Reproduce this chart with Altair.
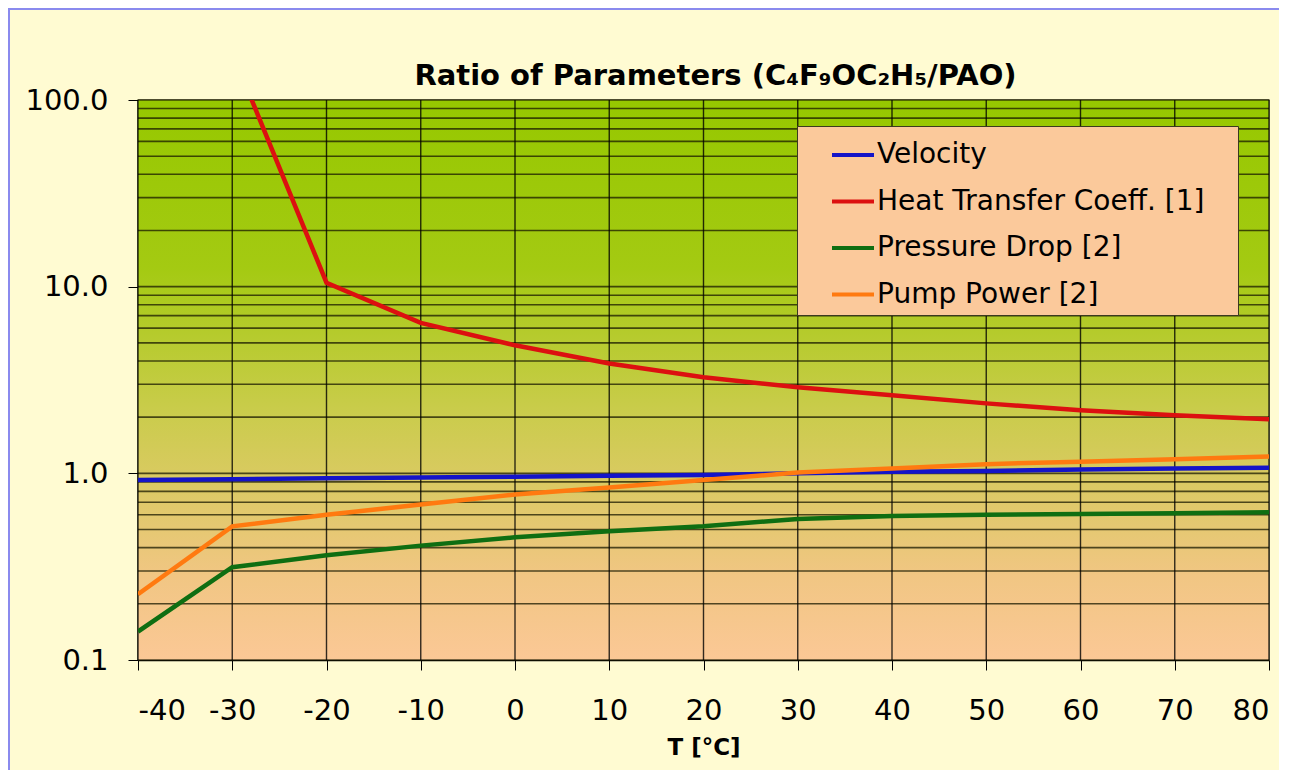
import altair as alt
import pandas as pd

# ---- data ----
temps = [-40, -30, -20, -10, 0, 10, 20, 30, 40, 50, 60, 70, 80]
velocity = [0.92, 0.93, 0.94, 0.95, 0.96, 0.97, 0.98, 1.00, 1.02, 1.03, 1.05, 1.06, 1.07]
heat_temps = [-30, -20, -10, 0, 10, 20, 30, 40, 50, 60, 70, 80]
heat_transfer = [180.0, 10.5, 6.4, 4.85, 3.88, 3.27, 2.89, 2.62, 2.37, 2.18, 2.05, 1.95]
pressure_drop = [0.142, 0.314, 0.364, 0.41, 0.454, 0.49, 0.52, 0.57, 0.59, 0.60, 0.605, 0.612, 0.618]
pump_power = [0.225, 0.52, 0.60, 0.68, 0.77, 0.84, 0.92, 1.01, 1.06, 1.12, 1.155, 1.19, 1.23]

series_names = ["Velocity", "Heat Transfer Coeff. [1]", "Pressure Drop [2]", "Pump Power [2]"]
series_colors = ["#1414C8", "#DC1010", "#0F6E12", "#FF7A10"]

title_text = "Ratio of Parameters (C₄F₉OC₂H₅/PAO)"
x_title = "T [°C]"

x_ticks = [-40, -30, -20, -10, 0, 10, 20, 30, 40, 50, 60, 70, 80]
y_labels = [0.1, 1, 10, 100]
y_grid = [0.1, 0.2, 0.3, 0.4, 0.5, 0.6, 0.7, 0.8, 0.9,
          1, 2, 3, 4, 5, 6, 7, 8, 9,
          10, 20, 30, 40, 50, 60, 70, 80, 90, 100]

rows = []
for t, v in zip(temps, velocity):
    rows.append({"T": t, "value": v, "series": series_names[0], "o": 0})
for t, v in zip(heat_temps, heat_transfer):
    rows.append({"T": t, "value": v, "series": series_names[1], "o": 1})
for t, v in zip(temps, pressure_drop):
    rows.append({"T": t, "value": v, "series": series_names[2], "o": 2})
for t, v in zip(temps, pump_power):
    rows.append({"T": t, "value": v, "series": series_names[3], "o": 3})
df = pd.DataFrame(rows)

W, H = 1131, 560
FONT = "DejaVu Sans"

xscale = alt.Scale(domain=[-40, 80], nice=False, zero=False)
yscale = alt.Scale(type="log", domain=[0.1, 100], nice=False)

x_axis = alt.Axis(values=x_ticks, grid=False, title=x_title,
                  labelExpr="'' + datum.value",
                  labelFontSize=29, labelFont=FONT, labelColor="#000",
                  labelPadding=26, tickSize=10, tickColor="#000",
                  domainColor="#000", domainWidth=1.5,
                  titleFont=FONT, titleFontSize=23, titleFontWeight="bold",
                  titleColor="#000", titlePadding=11)
y_axis = alt.Axis(values=y_labels, format=".1f", grid=False, title=None,
                  labelFontSize=29, labelFont=FONT, labelColor="#000",
                  labelPadding=20, tickSize=10, tickColor="#000",
                  domainColor="#000", domainWidth=1.5)

gradient = alt.LinearGradient(
    gradient="linear", x1=0, y1=0, x2=0, y2=1,
    stops=[
        alt.GradientStop(offset=0.0, color="#96C800"),
        alt.GradientStop(offset=0.3, color="#A4CA12"),
        alt.GradientStop(offset=0.55, color="#C9CC4A"),
        alt.GradientStop(offset=0.68, color="#DACA62"),
        alt.GradientStop(offset=0.85, color="#F1C683"),
        alt.GradientStop(offset=1.0, color="#FBC896"),
    ],
)

bg = alt.Chart(pd.DataFrame({"a": [0]})).mark_rect(fill=gradient).encode(
    x=alt.value(0), x2=alt.value(W), y=alt.value(0), y2=alt.value(H)
)

hgrid = alt.Chart(pd.DataFrame({"value": y_grid})).mark_rule(
    color="#1a1a00", strokeWidth=1.6, opacity=0.75
).encode(y=alt.Y("value:Q", scale=yscale, axis=y_axis))

vgrid = alt.Chart(pd.DataFrame({"T": x_ticks})).mark_rule(
    color="#000000", strokeWidth=1.4, opacity=0.8
).encode(x=alt.X("T:Q", scale=xscale, axis=x_axis))

lines = alt.Chart(df).mark_line(strokeWidth=4.5, clip=True).encode(
    x=alt.X("T:Q", scale=xscale, axis=x_axis),
    y=alt.Y("value:Q", scale=yscale, axis=y_axis),
    color=alt.Color("series:N",
                    scale=alt.Scale(domain=series_names, range=series_colors),
                    legend=alt.Legend(orient="none", legendX=659, legendY=26,
                                      title="\u00a0", titleOrient="right",
                                      titlePadding=28, titleFontSize=8,
                                      titleOpacity=0,
                                      symbolType="stroke",
                                      symbolSize=1764, symbolStrokeWidth=4,
                                      labelFont=FONT, labelFontSize=28,
                                      labelColor="#000", labelLimit=700,
                                      labelOffset=1, symbolOffset=27,
                                      rowPadding=9.5, padding=6,
                                      fillColor="#FBC99B", strokeColor="#3a3a20")),
    order=alt.Order("o:Q"),
    detail="series:N",
)

title = alt.Chart(pd.DataFrame({"t": [title_text]})).mark_text(
    font=FONT, fontSize=29, fontWeight="bold", color="#000",
    align="center", baseline="alphabetic"
).encode(text="t:N", x=alt.value(W / 2 + 12), y=alt.value(-15))

border_left = alt.Chart(pd.DataFrame({"a": [0]})).mark_rule(
    color="#8A8AEE", strokeWidth=2
).encode(x=alt.value(-129), y=alt.value(-92), y2=alt.value(H + 110))
border_top = alt.Chart(pd.DataFrame({"a": [0]})).mark_rule(
    color="#8A8AEE", strokeWidth=2
).encode(x=alt.value(-130), x2=alt.value(W + 10), y=alt.value(-91))

chart = alt.layer(bg, hgrid, vgrid, lines, title, border_left, border_top).properties(
    width=W, height=H,
    autosize=alt.AutoSizeParams(type="none"),
    padding={"left": 130, "top": 92, "right": 10, "bottom": 110},
).configure(background="#FFFBD2").configure_view(
    stroke="#6E6E48", strokeWidth=1.5
)

chart.save("out.html", embed_options={"renderer": "svg", "actions": False})
